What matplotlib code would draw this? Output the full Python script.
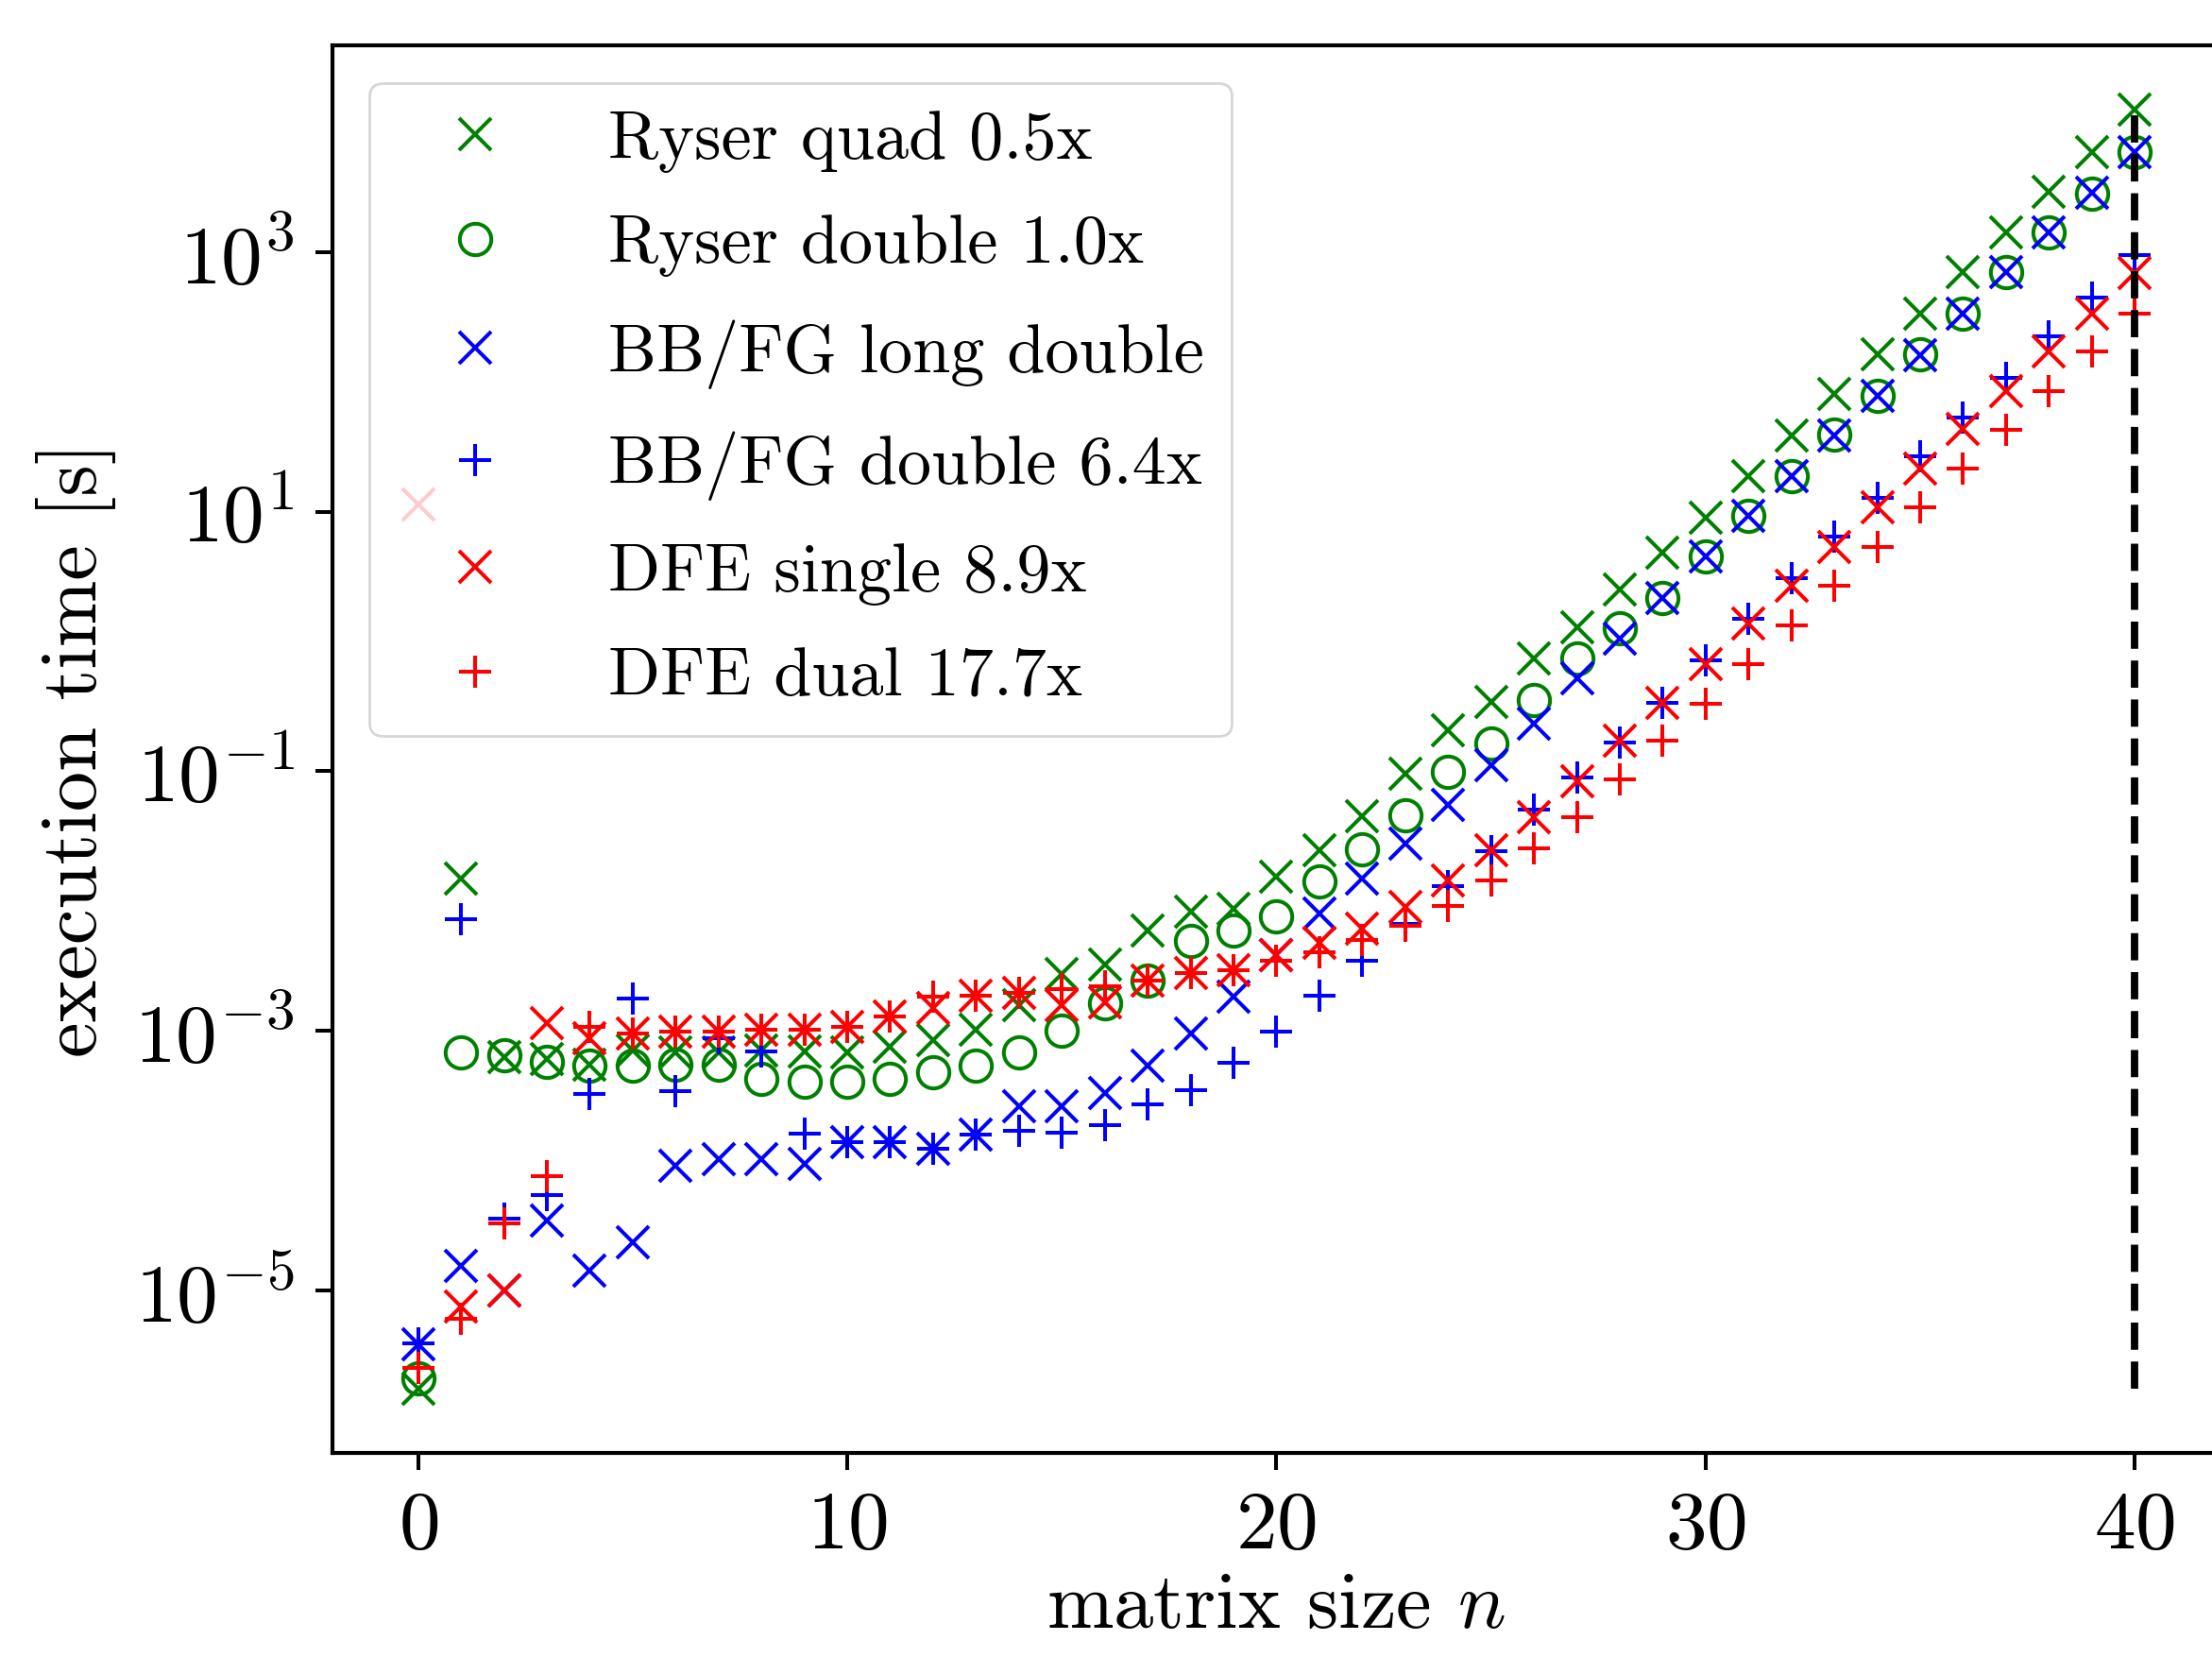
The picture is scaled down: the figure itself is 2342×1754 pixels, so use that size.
import numpy as np
import matplotlib
matplotlib.use("Agg")
import matplotlib.pyplot as plt
from matplotlib.ticker import NullLocator

# matrix sizes
n = np.arange(41)

# execution times, stored as log10(seconds)
ryser_quad = [
    -5.76, -1.83, -3.20, -3.22, -3.26, -3.15, -3.17, -3.17, -3.15, -3.16,
    -3.17, -3.12, -3.07, -2.99, -2.80, -2.56, -2.49, -2.23, -2.08, -2.06,
    -1.81, -1.61, -1.345, -1.02, -0.685, -0.463, -0.128, 0.108, 0.40, 0.685,
    0.957, 1.273, 1.590, 1.905, 2.214, 2.524, 2.849, 3.152, 3.468, 3.771,
    4.10,
]
ryser_double = [
    -5.68, -3.17, -3.19, -3.24, -3.27, -3.27, -3.26, -3.26, -3.37, -3.39,
    -3.39, -3.37, -3.32, -3.265, -3.17, -3.00, -2.79, -2.61, -2.31, -2.23,
    -2.12, -1.85, -1.604, -1.34, -1.006, -0.783, -0.449, -0.128, 0.10, 0.335,
    0.655, 0.972, 1.273, 1.595, 1.897, 2.214, 2.524, 2.849, 3.152, 3.455,
    3.771,
]
bbfg_long_double = [
    -5.42, -4.81, -5.00, -4.46, -4.85, -4.63, -4.04, -3.99, -3.99, -4.025,
    -3.86, -3.86, -3.91, -3.80, -3.58, -3.58, -3.48, -3.265, -3.02, -2.74,
    -2.415, -2.096, -1.825, -1.56, -1.257, -0.95, -0.63, -0.282, 0.023, 0.335,
    0.655, 0.972, 1.273, 1.59, 1.892, 2.209, 2.524, 2.849, 3.152, 3.46,
    3.771,
]
bbfg_double = [
    -5.41, -2.137, -4.45, -4.266, -3.49, -2.755, -3.464, -3.056, -3.156, -3.79,
    -3.858, -3.858, -3.908, -3.80, -3.774, -3.786, -3.726, -3.568, -3.46, -3.25,
    -3.005, -2.732, -2.46, -2.176, -1.883, -1.619, -1.298, -1.05, -0.78, -0.47,
    -0.145, 0.172, 0.489, 0.806, 1.108, 1.424, 1.726, 2.03, 2.355, 2.65,
    2.982,
]
dfe_single = [
    1.054, -5.128, -5.00, -2.939, -3.056, -3.02, -3.006, -3.006, -2.99, -2.99,
    -2.972, -2.889, -2.822, -2.731, -2.707, -2.804, -2.779, -2.61, -2.555, -2.53,
    -2.415, -2.325, -2.213, -2.045, -1.841, -1.605, -1.354, -1.075, -0.766, -0.47,
    -0.172, 0.142, 0.429, 0.730, 1.032, 1.334, 1.636, 1.932, 2.234, 2.53,
    2.837,
]
dfe_dual = [
    -5.60, -5.221, -4.485, -4.121, -2.972, -3.02, -3.006, -3.006, -2.99, -2.99,
    -2.972, -2.889, -2.738, -2.731, -2.707, -2.68, -2.658, -2.61, -2.555, -2.53,
    -2.464, -2.395, -2.30, -2.19, -2.036, -1.841, -1.591, -1.354, -1.063, -0.766,
    -0.477, -0.175, 0.127, 0.429, 0.730, 1.032, 1.334, 1.630, 1.932, 2.234,
    2.528,
]

labels = [
    "Ryser quad 0.5x",
    "Ryser double 1.0x",
    "BB/FG long double",
    "BB/FG double 6.4x",
    "DFE single 8.9x",
    "DFE dual 17.7x",
]
series = [ryser_quad, ryser_double, bbfg_long_double, bbfg_double, dfe_single, dfe_dual]
markers = ["x", "o", "x", "+", "x", "+"]
colors = ["green", "green", "blue", "blue", "red", "red"]
n_max_line = 40

plt.rcParams["font.family"] = "serif"
plt.rcParams["font.serif"] = ["cmr10"]
plt.rcParams["mathtext.fontset"] = "cm"
plt.rcParams["axes.formatter.use_mathtext"] = True
plt.rcParams["axes.linewidth"] = 1.5

fig = plt.figure(figsize=(2342 / 200, 1754 / 200), dpi=200)
ax = fig.add_axes([0.1502, 0.1232, 0.8537, 0.8493])

for vals, mk, col, lab in zip(series, markers, colors, labels):
    t = 10.0 ** np.asarray(vals)
    ax.plot(n, t, linestyle="none", marker=mk, color=col, markersize=12,
            markeredgewidth=1.45, fillstyle="none", label=lab)

# dashed marker line at the largest n, spanning the full range of measured times
all_t = 10.0 ** np.concatenate([np.asarray(s) for s in series])
ax.vlines(n_max_line, all_t.min(), all_t.max(), colors="black",
          linestyles="dashed", linewidth=2.8)

ax.set_yscale("log")
ax.yaxis.set_minor_locator(NullLocator())
ax.set_xticks([0, 10, 20, 30, 40])

ax.tick_params(axis="both", which="major", length=6.5, width=1.45,
               labelsize=31.5, pad=8)
ax.set_xlabel("matrix size $n$", fontsize=30.5, labelpad=3)
ax.set_ylabel("execution time [s]", fontsize=30.5, labelpad=7)

ax.legend(loc="upper left", fontsize=26, labelspacing=0.62,
          handlelength=2.3, borderaxespad=0.55)

fig.savefig("out.png", dpi=200)
